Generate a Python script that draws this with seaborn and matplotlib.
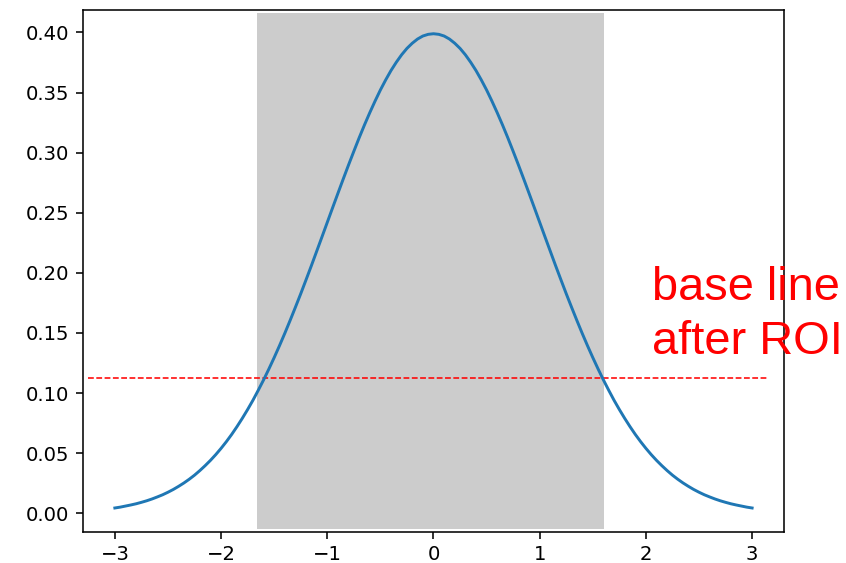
import matplotlib
matplotlib.use("Agg")
import matplotlib.pyplot as plt
import seaborn as sns
import pandas as pd

# Curve samples (x, density)
x_vals = [-3.0, -2.95, -2.9, -2.85, -2.8, -2.75, -2.7, -2.65, -2.6, -2.55,
          -2.5, -2.45, -2.4, -2.35, -2.3, -2.25, -2.2, -2.15, -2.1, -2.05,
          -2.0, -1.95, -1.9, -1.85, -1.8, -1.75, -1.7, -1.65, -1.6, -1.55,
          -1.5, -1.45, -1.4, -1.35, -1.3, -1.25, -1.2, -1.15, -1.1, -1.05,
          -1.0, -0.95, -0.9, -0.85, -0.8, -0.75, -0.7, -0.65, -0.6, -0.55,
          -0.5, -0.45, -0.4, -0.35, -0.3, -0.25, -0.2, -0.15, -0.1, -0.05,
          0.0,
          0.05, 0.1, 0.15, 0.2, 0.25, 0.3, 0.35, 0.4, 0.45, 0.5,
          0.55, 0.6, 0.65, 0.7, 0.75, 0.8, 0.85, 0.9, 0.95, 1.0,
          1.05, 1.1, 1.15, 1.2, 1.25, 1.3, 1.35, 1.4, 1.45, 1.5,
          1.55, 1.6, 1.65, 1.7, 1.75, 1.8, 1.85, 1.9, 1.95, 2.0,
          2.05, 2.1, 2.15, 2.2, 2.25, 2.3, 2.35, 2.4, 2.45, 2.5,
          2.55, 2.6, 2.65, 2.7, 2.75, 2.8, 2.85, 2.9, 2.95, 3.0]
y_vals = [0.0044, 0.0051, 0.0060, 0.0069, 0.0079, 0.0091, 0.0104, 0.0119, 0.0136, 0.0154,
          0.0175, 0.0198, 0.0224, 0.0252, 0.0283, 0.0317, 0.0355, 0.0396, 0.0440, 0.0488,
          0.0540, 0.0596, 0.0656, 0.0721, 0.0790, 0.0863, 0.0940, 0.1023, 0.1109, 0.1200,
          0.1295, 0.1394, 0.1497, 0.1604, 0.1714, 0.1826, 0.1942, 0.2059, 0.2179, 0.2299,
          0.2420, 0.2541, 0.2661, 0.2780, 0.2897, 0.3011, 0.3123, 0.3230, 0.3332, 0.3429,
          0.3521, 0.3605, 0.3683, 0.3752, 0.3814, 0.3867, 0.3910, 0.3945, 0.3970, 0.3984,
          0.3989,
          0.3984, 0.3970, 0.3945, 0.3910, 0.3867, 0.3814, 0.3752, 0.3683, 0.3605, 0.3521,
          0.3429, 0.3332, 0.3230, 0.3123, 0.3011, 0.2897, 0.2780, 0.2661, 0.2541, 0.2420,
          0.2299, 0.2179, 0.2059, 0.1942, 0.1826, 0.1714, 0.1604, 0.1497, 0.1394, 0.1295,
          0.1200, 0.1109, 0.1023, 0.0940, 0.0863, 0.0790, 0.0721, 0.0656, 0.0596, 0.0540,
          0.0488, 0.0440, 0.0396, 0.0355, 0.0317, 0.0283, 0.0252, 0.0224, 0.0198, 0.0175,
          0.0154, 0.0136, 0.0119, 0.0104, 0.0091, 0.0079, 0.0069, 0.0060, 0.0051, 0.0044]

roi_start = -1.663
roi_end = 1.601
baseline_y = 0.1128
baseline_x = [-3.25, 3.14]
label_text = "base line\nafter ROI"

df = pd.DataFrame({"x": x_vals, "y": y_vals})

dpi = 141
fig = plt.figure(figsize=(846 / dpi, 563 / dpi), dpi=dpi)
ax = fig.add_axes([0.0981, 0.0556, 0.8286, 0.9266])

ymin, ymax = min(y_vals), max(y_vals)
rng = ymax - ymin
ax.set_ylim(ymin - 0.05 * rng, ymax + 0.05 * rng)
ax.set_xlim(-3.3, 3.3)

ax.axvspan(roi_start, roi_end, ymin=0.005, ymax=0.995, color="#cccccc", lw=0, zorder=1)
sns.lineplot(data=df, x="x", y="y", ax=ax, color="#1f77b4", linewidth=1.5, zorder=3)
ax.hlines(baseline_y, baseline_x[0], baseline_x[1], colors="red", linestyles="--",
          linewidth=0.8, zorder=2)

ax.set_xlabel("")
ax.set_ylabel("")
ax.set_xticks([-3, -2, -1, 0, 1, 2, 3])
ax.set_yticks([0.0, 0.05, 0.1, 0.15, 0.2, 0.25, 0.3, 0.35, 0.4])
ax.tick_params(labelsize=10)

fig.text(651.5 / 846, 1 - 354 / 563, label_text, color="red", fontsize=24.0,
         family=["Liberation Sans", "DejaVu Sans"], ha="left", va="baseline",
         linespacing=1.3)

fig.savefig("out.png", dpi=dpi)
